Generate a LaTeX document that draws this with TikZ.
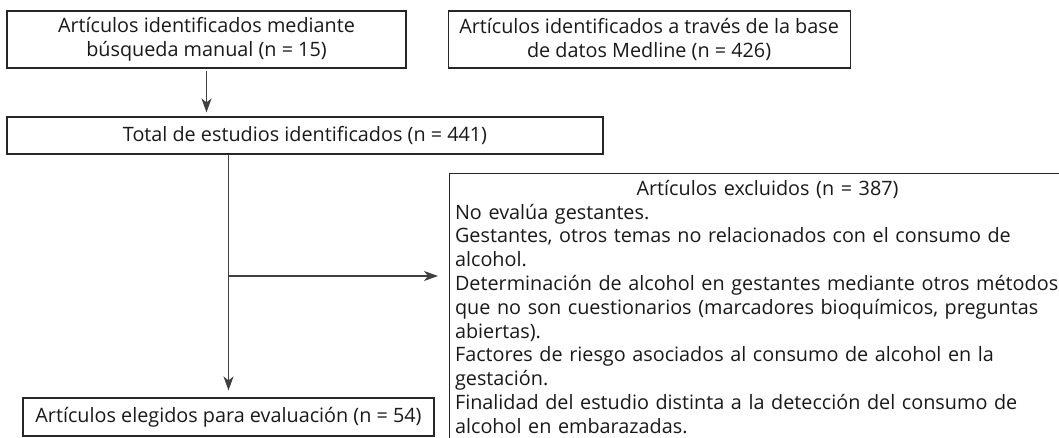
\documentclass[tikz,border=0pt]{standalone}
\usepackage{fontspec}
\setmainfont{Open Sans}
\usetikzlibrary{arrows.meta, positioning}

\begin{document}
\begin{tikzpicture}[x=1pt,y=-1pt, bx/.style={rectangle,draw=black!85,line width=1.1pt,inner sep=2pt,align=center,font=\fontsize{19.8}{23.8}\selectfont,text=black!90}, arr/.style={-{Stealth[length=14pt,width=10pt,inset=4pt]},line width=1.2pt,black!75}]
  \useasboundingbox (0,0) rectangle (1059,438);
  \clip (0,0) rectangle (1059,438);
  \node[bx,minimum width=399pt,minimum height=57pt](man) at (206.5,39.5){Artículos identificados mediante\\búsqueda manual (n = 15)};
  \node[bx,minimum width=402pt,minimum height=57pt,right=41pt of man](med){Artículos identificados a través de la base\\de datos Medline (n = 426)};
  \node[bx,minimum width=596pt,minimum height=37pt](tot) at (305,135.5){Total de estudios identificados (n = 441)};
  \node[bx,minimum width=411pt,minimum height=38pt](eleg) at (228.5,417){Artículos elegidos para evaluación (n = 54)};
  \node[bx,anchor=north west,inner xsep=5.5pt,inner ysep=6.5pt,text width=625pt,align=left](excl) at (449,173){%
    \centering Artículos excluidos (n = 387)\par\raggedright
    No evalúa gestantes.\\
    Gestantes, otros temas no relacionados con el consumo de\\
    alcohol.\\
    Determinación de alcohol en gestantes mediante otros métodos\\
    que no son cuestionarios (marcadores bioquímicos, preguntas\\
    abiertas).\\
    Factores de riesgo asociados al consumo de alcohol en la\\
    gestación.\\
    Finalidad del estudio distinta a la detección del consumo de\\
    alcohol en embarazadas.};
  \coordinate (br) at (eleg.north |- 0,276);
  \draw[arr,shorten <=2pt,shorten >=4pt](man.south)--(man.south |- tot.north);
  \draw[arr,shorten >=7pt](eleg.north |- tot.south)--(eleg.north);
  \draw[arr,shorten >=11pt](br)--(excl.west |- br);
\end{tikzpicture}
\end{document}
